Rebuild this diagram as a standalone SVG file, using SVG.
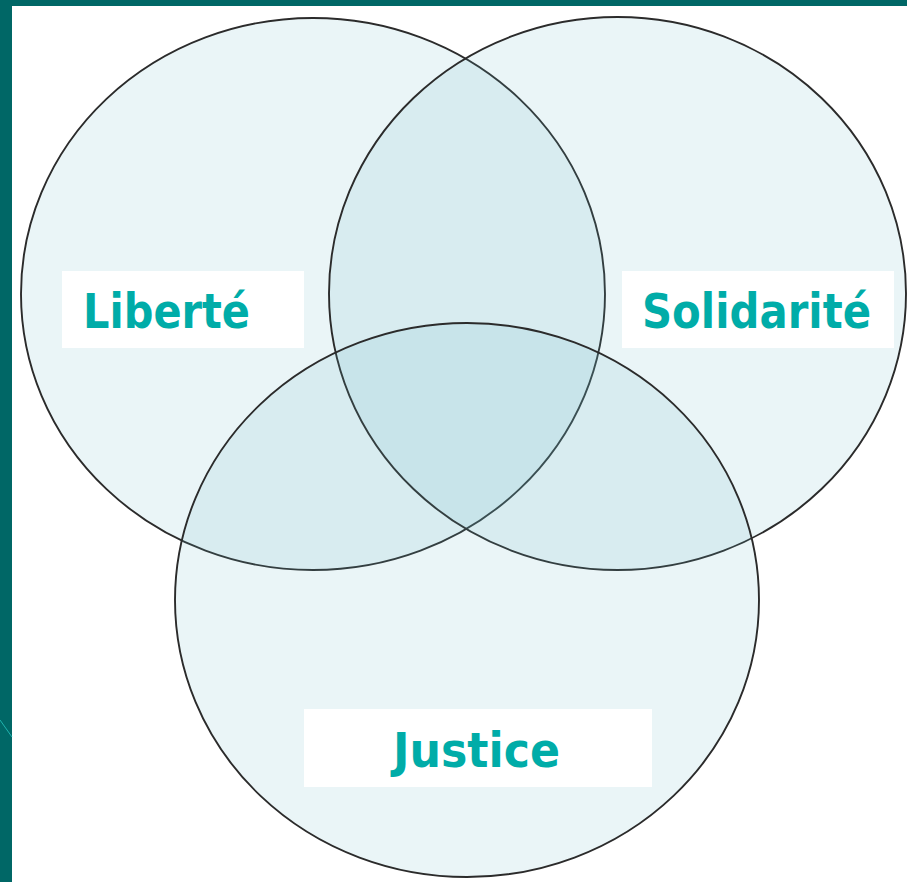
<svg xmlns="http://www.w3.org/2000/svg" width="907" height="882" viewBox="0 0 907 882">
<style>
.c{fill:#69b8c6;fill-opacity:0.14;stroke:#2b2b2b;stroke-width:1.9}
.box{fill:#fff}
.t{font-family:"DejaVu Sans","Liberation Sans",sans-serif;font-weight:bold;font-size:48px;fill:#00aca8}
</style>
<rect x="0" y="0" width="907" height="882" fill="#fff"/>
<rect x="0" y="0" width="907" height="6" fill="#006766"/>
<rect x="0" y="0" width="12" height="882" fill="#006766"/>
<line x1="0" y1="720" x2="12" y2="737" stroke="#1fb3ae" stroke-width="1"/>
<g id="liberte-circle"><ellipse class="c" cx="313" cy="294" rx="292" ry="276"/></g>
<g id="solidarite-circle"><ellipse class="c" cx="617.5" cy="293.5" rx="288.5" ry="276.5"/></g>
<g id="justice-circle"><ellipse class="c" cx="467" cy="600" rx="292" ry="277"/></g>
<g id="connectors"></g>
<g id="liberte"><rect class="box" x="62" y="271" width="242" height="77"/><text class="t" x="83" y="328" textLength="167" lengthAdjust="spacingAndGlyphs">Liberté</text></g>
<g id="solidarite"><rect class="box" x="622" y="271" width="272" height="77"/><text class="t" x="642" y="328" textLength="229" lengthAdjust="spacingAndGlyphs">Solidarité</text></g>
<g id="justice"><rect class="box" x="304" y="709" width="348" height="78"/><text class="t" x="393" y="767" textLength="167" lengthAdjust="spacingAndGlyphs">Justice</text></g>
</svg>
